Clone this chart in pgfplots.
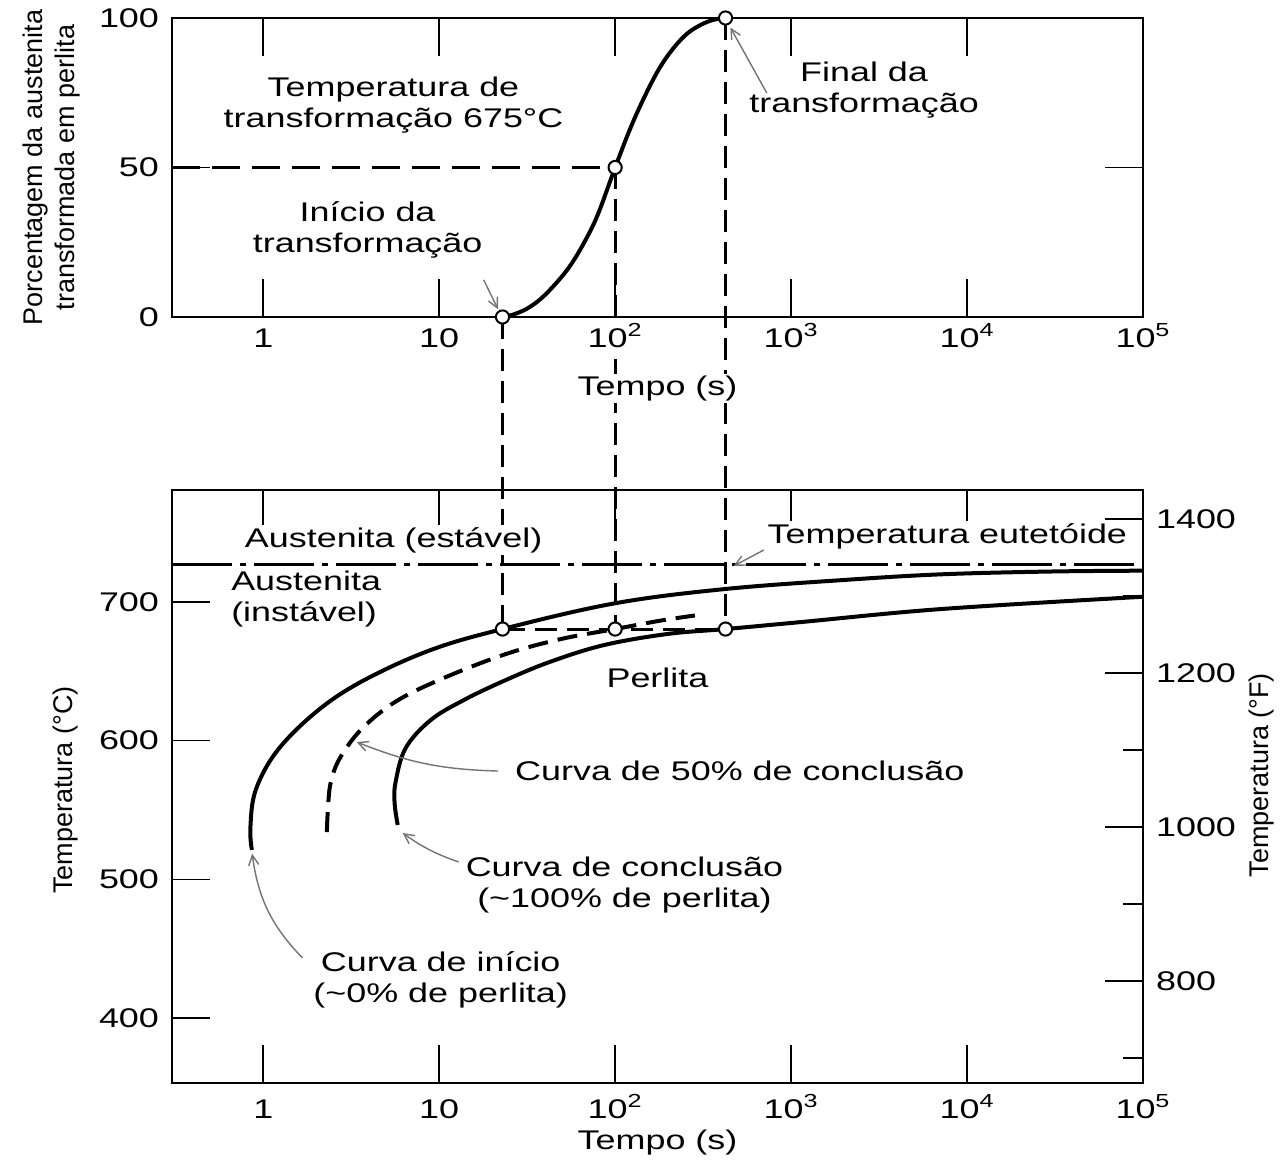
\documentclass[border=0pt]{standalone}
\usepackage{fontspec}
\setmainfont{Liberation Sans}[FakeStretch=1.33]
\newfontfamily\rotfont{Liberation Sans}
\usepackage{pgfplots}
\usepackage{pgfplotstable}
\pgfplotsset{compat=1.18}
\usetikzlibrary{arrows.meta}
\pgfdeclarelayer{background}
\pgfsetlayers{background,main}
\newcommand\fs{\fontsize{13.5}{15.5}\selectfont}
\newcommand\rfs{\rotfont\fontsize{13.5}{16}\selectfont}

\pgfplotstableread{
t P
22.9 0
26.3 0.8
31.6 2.8
38.0 6.2
45.7 11
55.0 16.8
66.1 24.5
79.4 34
100 50
123 63.6
147.9 74
177.8 83
213.8 89.8
257.0 94.8
309.0 97.8
363.1 99.4
424 100
}\sigmoid

\pgfplotstableread{
t T
0.862 521.2
0.845 537
0.906 564.4
1.21 593.3
2.059 622.1
3.766 643.8
8.96 665.4
22.9 680.5
100 699.1
424 709.4
2000 715.9
7200 720
30000 722
100000 722.6
}\startcurve

\pgfplotstableread{
t T
5.81 539.2
5.58 555
5.65 570
6.45 594.7
8.96 614.9
13.81 629.3
23.98 643.8
43 657
86.8 669.0
200 677
424 680.5
1152 685.6
7240 695.0
100000 703.8
}\finishcurve

\pgfplotstableread{
t T
2.30 534.1
2.33 550.0
2.42 570
2.75 588.2
3.67 609.1
5.73 628.6
10.62 645.2
23.98 662.5
50 673.5
100 680.5
175.7 686.3
283.9 690.3
}\halfcurve

\tikzset{myannot/.style={draw=black!55, line width=0.7pt, -{Straight Barb[length=5pt,width=5pt]}}}

\begin{document}
\begin{tikzpicture}
\path[use as bounding box] (-86pt,-38.5pt) rectangle (554.5pt,541.5pt);

% ---------- top axis ----------
\begin{axis}[at={(0,383pt)}, anchor=south west,
  scale only axis, width=485.5pt, height=149.5pt,
  xmode=log, xmin=0.303, xmax=1e5,
  xtick={1,10,100,1000,10000,100000},
  xticklabels={1,10,10\textsuperscript{2},10\textsuperscript{3},10\textsuperscript{4},10\textsuperscript{5}},
  xminorticks=false,
  tick align=inside, major tick length=19pt,
  axis line style={line width=1.3pt},
  tick style={line width=0.8pt, black},
  /pgf/number format/assume math mode=true,
  /pgf/number format/1000 sep={},
  tick label style={font=\fs},
  xticklabel style={text height=11pt, text depth=3pt, yshift=-3pt, fill=white, inner sep=1pt},
  yticklabel style={xshift=-3pt},
  ymin=0, ymax=100, ytick={0,50,100}, xtick pos=both, ytick pos=both,
  clip=false,
  xlabel={Tempo (s)},
  every axis x label/.style={at={(axis description cs:0.5,-0.24)}, anchor=center, font=\fs, fill=white, inner sep=1pt},
  ylabel={Porcentagem da austenita\\transformada em perlita},
  every axis y label/.style={at={(axis description cs:-0.124,0.5)}, anchor=center, rotate=90, font=\rfs, align=center},
]
\addplot[line width=2pt, dash pattern=on 14pt off 6pt, line width=1.5pt] coordinates {(0.303,50) (100,50)};
\addplot[line width=2pt, black, smooth, tension=0.6] table[x=t, y=P] {\sigmoid};
\addplot[only marks, mark=*, mark size=3.3pt, mark options={fill=white, draw=black, line width=1pt}] coordinates {(22.9,0) (100,50) (424,100)};
\coordinate (a1) at (axis cs:22.9,0);
\coordinate (a2) at (axis cs:100,50);
\coordinate (a3) at (axis cs:424,100);
\node[font=\fs, align=center] at (axis cs:5.5,71) {Temperatura de\\transformação 675°C};
\node[font=\fs, align=center] at (axis cs:3.92,29.1) {Início da\\transformação};
\node[font=\fs, align=center] at (axis cs:2600,75.9) {Final da\\transformação};
\draw[myannot] (axis cs:17.9,12.4) -- (axis cs:21.6,2.6);
\draw[myannot] (axis cs:728,74.9) -- (axis cs:452,96.8);
\end{axis}

% ---------- bottom axis (deg C) ----------
\begin{axis}[at={(0,0)}, anchor=south west,
  scale only axis, width=485.5pt, height=296.5pt,
  xmode=log, xmin=0.303, xmax=1e5,
  xtick={1,10,100,1000,10000,100000},
  xticklabels={1,10,10\textsuperscript{2},10\textsuperscript{3},10\textsuperscript{4},10\textsuperscript{5}},
  xminorticks=false,
  tick align=inside, major tick length=19pt,
  axis line style={line width=1.3pt},
  tick style={line width=0.8pt, black},
  /pgf/number format/assume math mode=true,
  /pgf/number format/1000 sep={},
  tick label style={font=\fs},
  xticklabel style={text height=11pt, text depth=3pt, yshift=-3pt},
  yticklabel style={xshift=-3pt},
  ymin=353.1, ymax=780.8, ytick={400,500,600,700}, xtick pos=both, ytick pos=left,
  clip=false,
  xlabel={Tempo (s)},
  every axis x label/.style={at={(axis description cs:0.5,-0.101)}, anchor=center, font=\fs},
  ylabel={Temperatura (°C)},
  every axis y label/.style={at={(axis description cs:-0.110,0.494)}, anchor=center, rotate=90, font=\rfs},
]
\addplot[line width=1.2pt, dash pattern=on 30pt off 4pt on 3pt off 4pt] coordinates {(0.303,727) (100000,727)};
\addplot[line width=2pt, black, smooth, tension=0.6] table[x=t, y=T] {\startcurve};
\addplot[line width=2pt, black, smooth, tension=0.6] table[x=t, y=T] {\finishcurve};
\addplot[line width=2pt, black, smooth, tension=0.6, dash pattern=on 10pt off 5pt] table[x=t, y=T] {\halfcurve};
\addplot[line width=1.5pt, dash pattern=on 11pt off 5pt] coordinates {(22.9,680.5) (424,680.5)};
\addplot[only marks, mark=*, mark size=3.3pt, mark options={fill=white, draw=black, line width=1pt}] coordinates {(22.9,680.5) (100,680.5) (424,680.5)};
\coordinate (b1) at (axis cs:22.9,680.5);
\coordinate (b2) at (axis cs:100,680.5);
\coordinate (b3) at (axis cs:424,680.5);
\node[font=\fs, fill=white, inner sep=1pt] at (axis cs:5.51,744.7) {Austenita (estável)};
\node[font=\fs, align=left, anchor=west] at (axis cs:0.6,702) {Austenita\\(instável)};
\node[font=\fs, fill=white, inner sep=1pt] at (axis cs:7730,747.6) {Temperatura eutetóide};
\draw[myannot] (axis cs:700,737.5) -- (axis cs:472,726);
\node[font=\fs] at (axis cs:174,645.2) {Perlita};
\node[font=\fs] at (axis cs:511,578.1) {Curva de 50\% de conclusão};
\draw[myannot] (axis cs:21.6,578.1) to[bend left=10] (axis cs:3.4,599);
\node[font=\fs, align=center] at (axis cs:113,495.9) {Curva de conclusão\\(\textasciitilde100\% de perlita)};
\draw[myannot] (axis cs:12.9,512.5) to[bend left=8] (axis cs:6.2,533.4);
\node[font=\fs, align=center] at (axis cs:10.2,427.4) {Curva de início\\(\textasciitilde0\% de perlita)};
\draw[myannot] (axis cs:1.67,443.3) to[bend left=18] (axis cs:0.865,518.5);
\end{axis}

% ---------- right axis (deg F) ----------
\begin{axis}[at={(0,0)}, anchor=south west,
  scale only axis, width=485.5pt, height=296.5pt,
  xmin=0, xmax=1,
  hide x axis, axis y line*=right,
  tick align=inside, major tick length=19pt, minor tick length=10pt,
  axis line style={line width=1.3pt},
  tick style={line width=0.8pt, black},
  /pgf/number format/assume math mode=true,
  /pgf/number format/1000 sep={},
  tick label style={font=\fs},
  ymin=667.58, ymax=1437.44,
  ytick={800,1000,1200,1400}, minor ytick={700,900,1100,1300},
  yticklabel style={xshift=3pt},
  ylabel={Temperatura (°F)},
  every axis y label/.style={at={(axis description cs:1.1225,0.519)}, anchor=center, rotate=90, font=\rfs},
]
\addplot[draw=none] coordinates {(0.5,800)};
\end{axis}

\begin{pgfonlayer}{background}
\draw[line width=1.5pt, dash pattern=on 11pt off 5pt] (a1) -- (b1);
\draw[line width=1.5pt, dash pattern=on 11pt off 5pt] (a2) -- (b2);
\draw[line width=1.5pt, dash pattern=on 11pt off 5pt] (a3) -- (b3);
\end{pgfonlayer}
\end{tikzpicture}
\end{document}
